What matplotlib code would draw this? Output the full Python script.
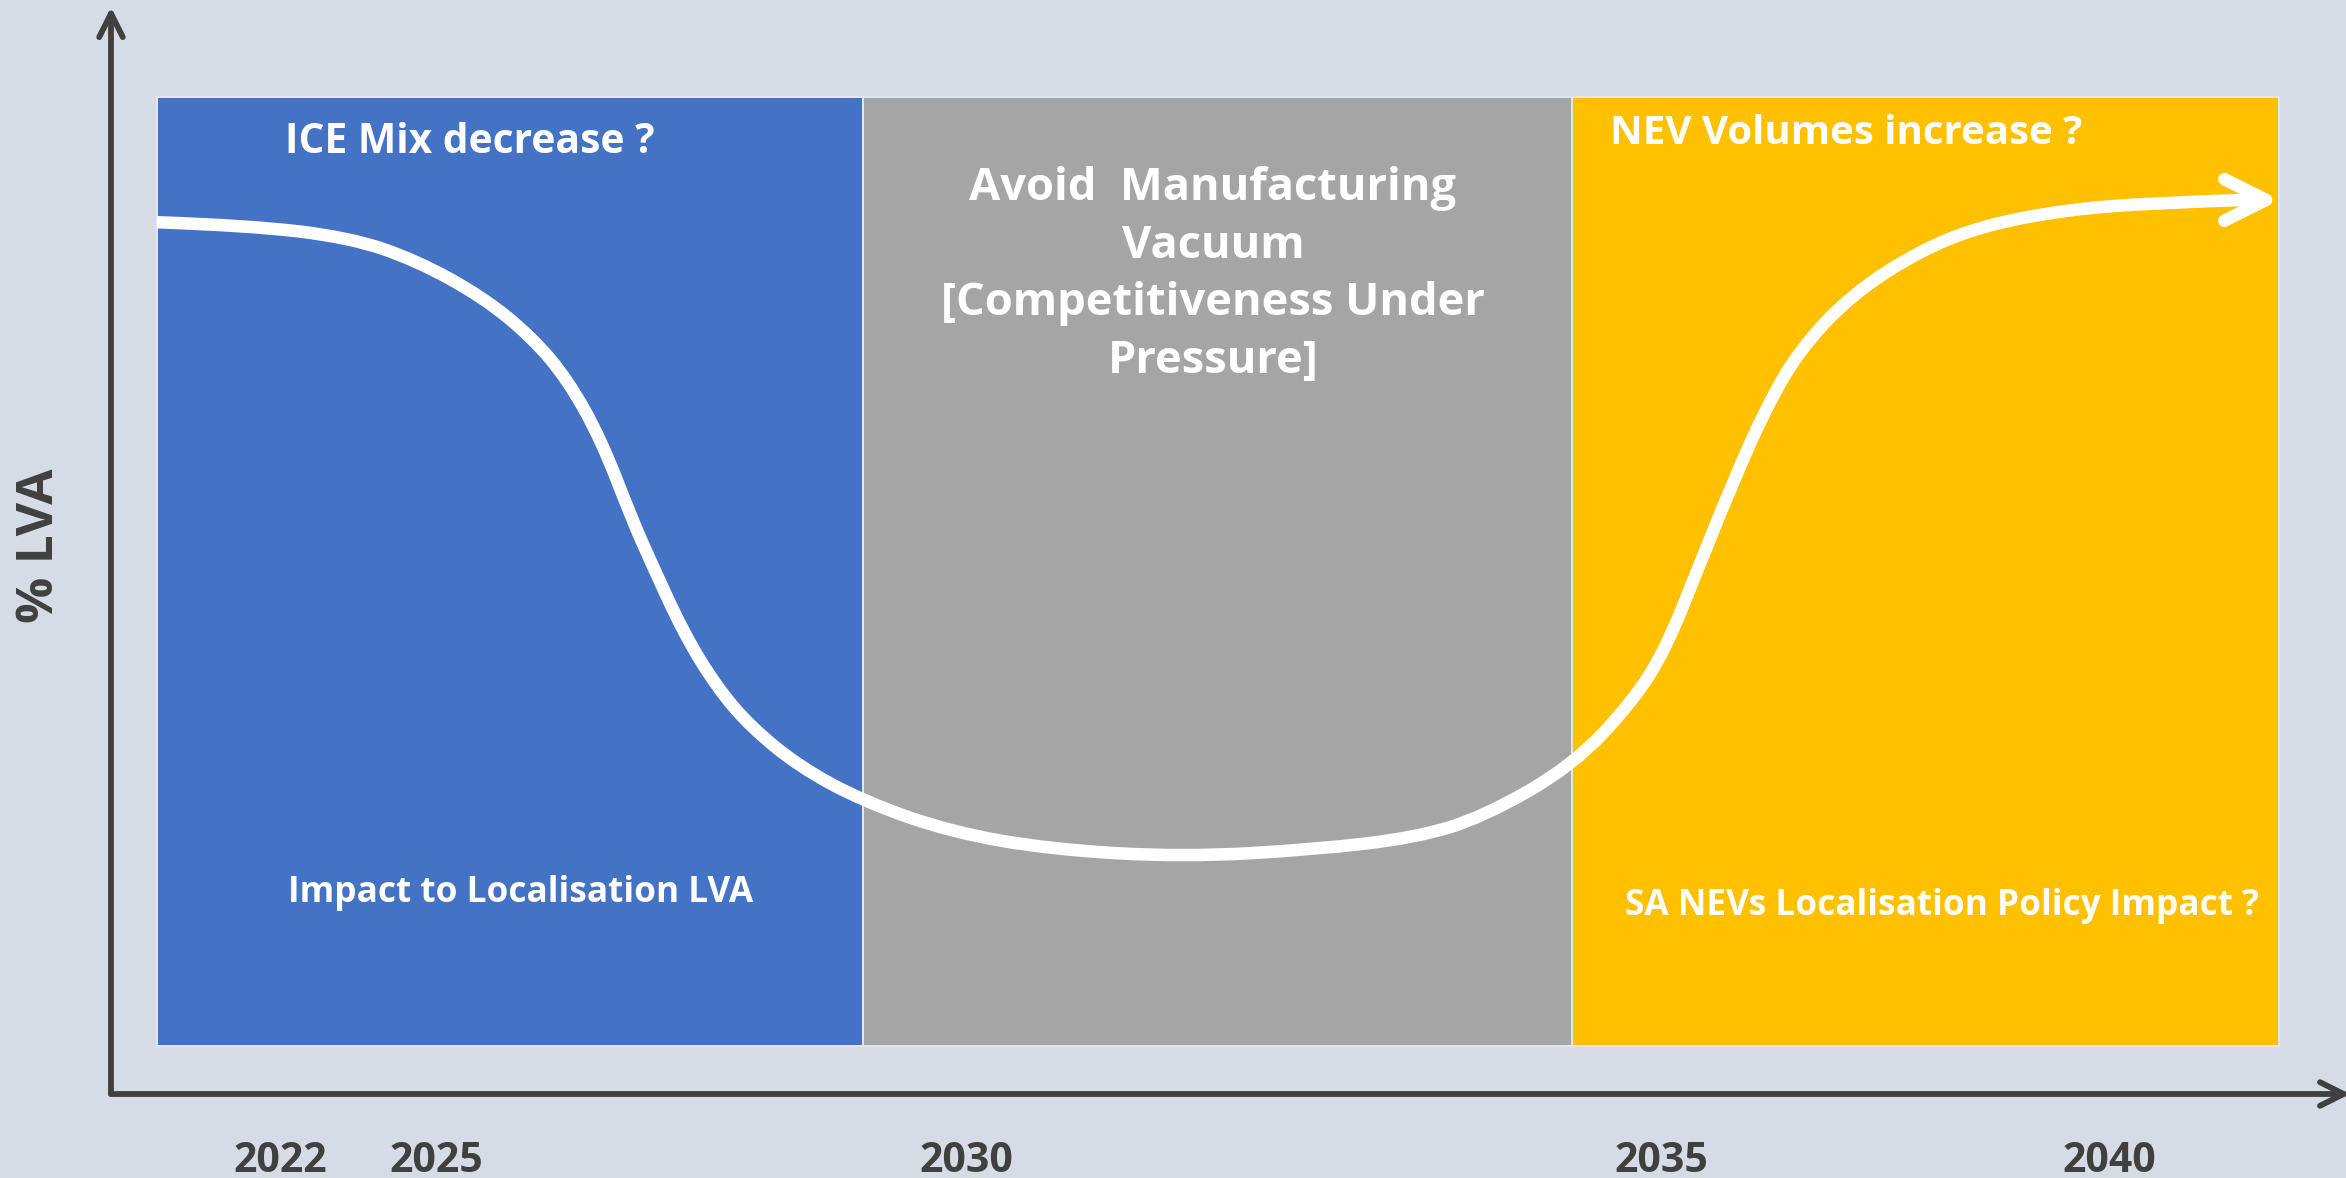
import matplotlib
matplotlib.use("Agg")
import matplotlib.pyplot as plt
from matplotlib.path import Path
from matplotlib.patches import PathPatch

plt.rcParams["font.family"] = ["Open Sans", "DejaVu Sans"]
plt.rcParams["font.weight"] = "bold"

BG = "#D6DCE5"
AXC = "#404040"

# timeline scale 0-100 (x) and % LVA scale 0-100 (y)
phase_left = [2.06, 33.75, 65.57]
phase_right = [33.75, 65.57, 97.31]
phase_colors = ["#4472C4", "#A5A5A5", "#FFC000"]
box_bottom, box_top = 4.4, 91.7

year_pos = [7.6, 14.6, 38.4, 69.6, 89.7]
year_labels = ["2022", "2025", "2030", "2035", "2040"]

# LVA path
curve_x = [2.06, 6.2, 10.7, 13.7, 16.7, 18.9, 20.5, 22.0, 23.4, 24.2, 25.7, 27.2,
           28.7, 30.9, 33.8, 37.7, 42.2, 48.1, 54.1, 58.6, 61.6, 65.6, 68.3,
           69.8, 71.3, 72.8, 74.3, 75.8, 78.1, 81.1, 84.0, 87.9, 92.0, 95.7, 97.35]
curve_y = [80.2, 79.9, 78.8, 76.7, 73.3, 69.6, 65.7, 60.2, 52.8, 49.1, 42.4, 37.4,
           33.8, 30.1, 26.9, 24.1, 22.5, 21.8, 22.5, 23.6, 25.5, 30.2, 36.1,
           41.0, 48.7, 56.3, 63.2, 68.5, 73.5, 77.5, 79.9, 81.4, 82.0, 82.25, 82.25]

top_notes = ["ICE Mix decrease ?", "NEV Volumes increase ?"]
bottom_notes = ["Impact to Localisation LVA", "SA NEVs Localisation Policy Impact ?"]
middle_lines = ["Avoid  Manufacturing", "Vacuum", "[Competitiveness Under", "Pressure]"]

fig = plt.figure(figsize=(23.46, 11.78), dpi=100, facecolor=BG)
ax = fig.add_axes([111/2346, 84/1178, 2228/2346, 1087/1178])
ax.set_facecolor(BG)
ax.set_xlim(0, 100); ax.set_ylim(0, 100)
for s in ax.spines.values():
    s.set_visible(False)

# phase blocks
widths = [r - l for l, r in zip(phase_left, phase_right)]
ax.bar(phase_left, box_top - box_bottom, width=widths, bottom=box_bottom, align="edge",
       color=phase_colors, edgecolor="#E4E8EE", linewidth=1.4, zorder=1)

# axes arrows
arr = dict(arrowstyle="->,head_length=1.7,head_width=0.85", lw=4.2, color=AXC,
           shrinkA=0, shrinkB=0, capstyle="round", mutation_scale=10)
ax.annotate("", xy=(0, 1), xytext=(0, 0), xycoords="axes fraction", arrowprops=arr,
            annotation_clip=False)
ax.annotate("", xy=(1.005, 0), xytext=(0, 0), xycoords="axes fraction", arrowprops=arr,
            annotation_clip=False)

# the curve: read points used as quadratic bezier controls so the stroke is smooth
pts = list(zip(curve_x[:-1], curve_y[:-1]))
verts = [pts[0]]
codes = [Path.MOVETO]
for i in range(1, len(pts) - 1):
    mid = ((pts[i][0] + pts[i+1][0]) / 2, (pts[i][1] + pts[i+1][1]) / 2)
    verts += [pts[i], mid if i < len(pts) - 2 else pts[i+1]]
    codes += [Path.CURVE3, Path.CURVE3]
ax.add_patch(PathPatch(Path(verts, codes), facecolor="none", edgecolor="white", lw=9,
                       capstyle="butt", joinstyle="round", zorder=3))
ax.annotate("", xy=(curve_x[-1], curve_y[-1]), xytext=(curve_x[-2], curve_y[-2]),
            arrowprops=dict(arrowstyle="->,head_length=3.0,head_width=1.5", lw=9,
                            color="white", shrinkA=0, shrinkB=0, capstyle="round",
                            mutation_scale=10), zorder=3)

# ticks
ax.set_yticks([])
ax.set_xticks(year_pos, year_labels)
ax.tick_params(axis="x", length=0, pad=34, labelsize=29.5, labelcolor=AXC)

# texts
ax.text(16.1, 86.6, top_notes[0], color="white", fontsize=29.3, ha="center", va="baseline", zorder=4)
ax.text(77.9, 87.4, top_notes[1], color="white", fontsize=29, ha="center", va="baseline", zorder=4)
ax.text(18.4, 17.7, bottom_notes[0], color="white", fontsize=25.4, ha="center", va="baseline", zorder=4)
ax.text(82.2, 16.5, bottom_notes[1], color="white", fontsize=25.4, ha="center", va="baseline", zorder=4)
for i, line in enumerate(middle_lines):
    ax.text(49.46, 82.25 - i*5.31, line, color="white", fontsize=32.6, ha="center",
            va="baseline", zorder=4)

fig.text(40/2346, 1 - 546/1178, "% LVA", rotation=90, ha="center", va="center",
         fontsize=37, color=AXC)

fig.savefig("out.png", dpi=100, facecolor=BG)
